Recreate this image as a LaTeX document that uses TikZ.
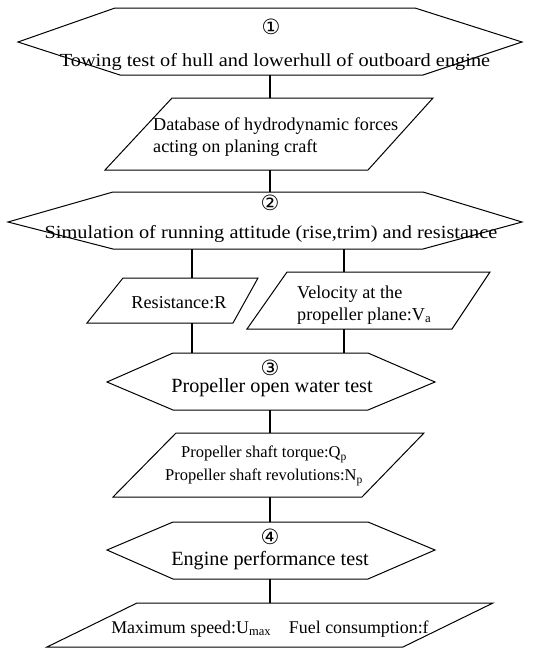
\documentclass[tikz,border=0pt]{standalone}
\usepackage{fontspec}
\setmainfont{Liberation Serif}
\newfontfamily\widefont[FakeStretch=1.1]{Liberation Serif}
\newfontfamily\symfont{DejaVu Sans}
\begin{document}
\begin{tikzpicture}[x=1pt,y=-1pt,
  outline/.style={draw=black,line width=1pt,line join=miter},
  conn/.style={draw=black,line width=2.4pt},
  txt/.style={inner sep=0pt,anchor=base},
  mtxt/.style={inner sep=0pt,anchor=center},
  bigtxt/.style={font=\rmfamily\fontsize{20.2}{24}\selectfont},
  midtxt/.style={font=\widefont\fontsize{18.5}{20}\selectfont},
  partxt/.style={font=\rmfamily\fontsize{18.2}{22}\selectfont},
  numtxt/.style={inner sep=0pt,anchor=center,font=\symfont\fontsize{21}{21}\selectfont}]
\useasboundingbox (0,0) rectangle (549,649);
% hexagon 1
\path[outline] (18,42) -- (115,8) -- (415,8) -- (522,42) -- (423,75) -- (120,75) -- cycle;
\node[numtxt] (n1) at (271,27) {①};
\node[txt,midtxt] (h1) at (275,66) {Towing test of hull and lowerhull of outboard engine};
\coordinate (h1s) at (270,75);
% parallelogram 1
\path[outline] (172,98) -- (433,98) -- (368,170) -- (105,170) -- cycle;
\node[mtxt,partxt,align=left,anchor=west] (p1) at (153,137) {Database of hydrodynamic forces\\acting on planing craft};
\coordinate (p1n) at (270,98);
\coordinate (p1s) at (270,170);
% hexagon 2
\path[outline] (8,222) -- (113,192) -- (423,192) -- (522,222) -- (423,249) -- (113,249) -- cycle;
\node[numtxt] (n2) at (270,203) {②};
\node[txt,midtxt] (h2) at (271,238) {Simulation of running attitude (rise,trim) and resistance};
\coordinate (h2n) at (270,192);
\coordinate (h2sl) at (192,249);
\coordinate (h2sr) at (344,249);
% parallelogram R
\path[outline] (123,278) -- (258,278) -- (233,323) -- (87,323) -- cycle;
\node[txt,partxt] (pr) at (179,308) {Resistance:R};
\coordinate (prn) at (192,278);
\coordinate (prs) at (192,323);
% parallelogram Va
\path[outline] (287,272) -- (490,272) -- (452,329) -- (247,329) -- cycle;
\node[mtxt,partxt,align=left,anchor=west] (pv) at (297,305) {Velocity at the\\propeller plane:V\textsubscript{a}};
\coordinate (pvn) at (344,272);
\coordinate (pvs) at (344,329);
% hexagon 3
\path[outline] (107,382) -- (173,353) -- (368,353) -- (435,382) -- (368,410) -- (173,410) -- cycle;
\node[numtxt] (n3) at (270,368) {③};
\node[txt,bigtxt] (h3) at (272,392) {Propeller open water test};
\coordinate (h3nl) at (192,353);
\coordinate (h3nr) at (344,353);
\coordinate (h3s) at (270,410);
% parallelogram Q
\path[outline] (176,433) -- (424,433) -- (362,497) -- (113,497) -- cycle;
\node[mtxt,font=\rmfamily\fontsize{16.5}{23}\selectfont,align=center] (pq) at (264,466) {Propeller shaft torque:Q\textsubscript{p}\\Propeller shaft revolutions:N\textsubscript{p}};
\coordinate (pqn) at (270,433);
\coordinate (pqs) at (270,497);
% hexagon 4
\path[outline] (107,550) -- (173,522) -- (368,522) -- (435,550) -- (368,579) -- (173,579) -- cycle;
\node[numtxt] (n4) at (270,537) {④};
\node[txt,bigtxt] (h4) at (270,565) {Engine performance test};
\coordinate (h4n) at (270,522);
\coordinate (h4s) at (270,579);
% parallelogram final
\path[outline] (137,603) -- (493,603) -- (403,647) -- (47,647) -- cycle;
\node[txt,font=\rmfamily\fontsize{17.9}{22}\selectfont] (pf) at (270,633) {Maximum speed:U\textsubscript{max}\quad Fuel consumption:f};
\coordinate (pfn) at (270,603);
% connectors
\draw[conn] (h1s) -- (p1n);
\draw[conn] (p1s) -- (h2n);
\draw[conn] (h2sl) -- (prn);
\draw[conn] (h2sr) -- (pvn);
\draw[conn] (prs) -- (h3nl);
\draw[conn] (pvs) -- (h3nr);
\draw[conn] (h3s) -- (pqn);
\draw[conn] (pqs) -- (h4n);
\draw[conn] (h4s) -- (pfn);
\end{tikzpicture}
\end{document}
